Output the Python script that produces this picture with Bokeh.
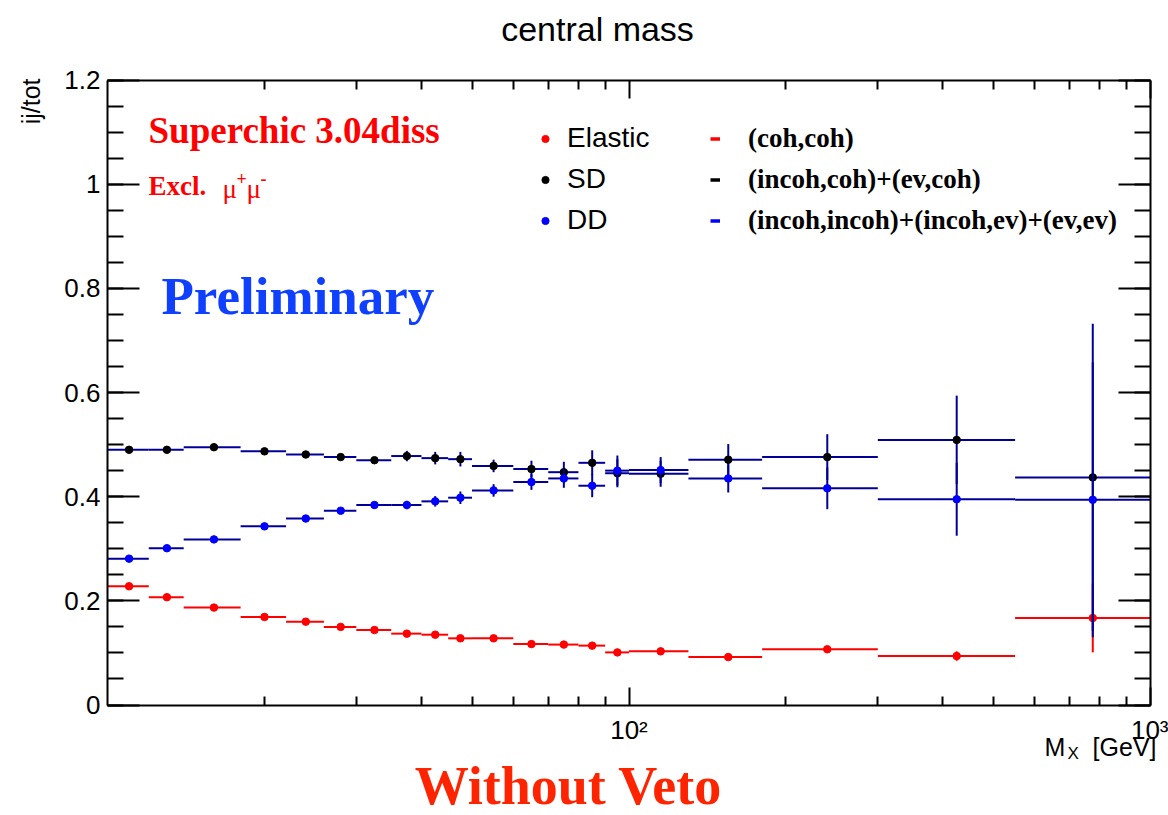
from bokeh.plotting import figure
from bokeh.models import FixedTicker, LinearAxis, LogAxis, Label, Legend, LegendItem, Range1d
from bokeh.embed import file_html
from bokeh.resources import INLINE

# ---- data: ratio ij/tot in bins of central mass M_X [GeV] ----
mx_edges = [10, 12, 14, 18, 22, 26, 30, 35, 40, 45, 50, 60, 70, 80, 90, 100, 130, 180, 300, 550, 1000]

elastic = [0.228, 0.207, 0.187, 0.169, 0.160, 0.150, 0.144, 0.137, 0.135, 0.128,
           0.128, 0.117, 0.116, 0.114, 0.101, 0.103, 0.092, 0.107, 0.094, 0.167]
elastic_err = [0.003, 0.003, 0.003, 0.003, 0.003, 0.003, 0.003, 0.003, 0.003, 0.003,
               0.003, 0.003, 0.003, 0.004, 0.004, 0.004, 0.004, 0.005, 0.009, 0.066]

sd = [0.490, 0.490, 0.495, 0.487, 0.481, 0.476, 0.470, 0.478, 0.474, 0.472,
      0.459, 0.453, 0.447, 0.465, 0.445, 0.444, 0.471, 0.476, 0.509, 0.437]
sd_err = [0.004, 0.004, 0.004, 0.005, 0.005, 0.006, 0.006, 0.010, 0.012, 0.014,
          0.012, 0.016, 0.020, 0.024, 0.027, 0.025, 0.030, 0.044, 0.085, 0.295]

dd = [0.281, 0.301, 0.318, 0.343, 0.358, 0.373, 0.384, 0.384, 0.391, 0.398,
      0.412, 0.428, 0.435, 0.421, 0.450, 0.451, 0.435, 0.416, 0.395, 0.394]
dd_err = [0.003, 0.003, 0.004, 0.004, 0.005, 0.005, 0.006, 0.008, 0.010, 0.012,
          0.012, 0.015, 0.018, 0.022, 0.029, 0.025, 0.027, 0.040, 0.070, 0.264]

x_lim = (10, 1000)
y_lim = (0, 1.2)
y_tick_values = [0, 0.2, 0.4, 0.6, 0.8, 1.0, 1.2]
y_tick_labels = ["0", "0.2", "0.4", "0.6", "0.8", "1", "1.2"]
x_tick_values = [100, 1000]
x_tick_labels = ["10²", "10³"]

legend_proc = ["Elastic", "SD", "DD"]
legend_combo = ["(coh,coh)", "(incoh,coh)+(ev,coh)", "(incoh,incoh)+(incoh,ev)+(ev,ev)"]

# ---- styling ----
SANS = "Liberation Sans"
SERIF = "Liberation Serif"
RED = "#ff0000"
NAVY = "#000099"
BLUE = "#0000ff"

W, H = 1168, 815
FL, FR, FT, FB = 107, 1150, 79.5, 704.5  # box of the axes on the canvas

# The plotting frame fills the whole canvas; the axes sit at fixed data
# locations so that titles and notes around the box are free to be placed.
px_per_decade = (FR - FL) / 2.0
px_per_unit = (FB - FT) / (y_lim[1] - y_lim[0])
x_range = Range1d(10 ** (1 - FL / px_per_decade), 10 ** (3 + (W - FR) / px_per_decade))
y_range = Range1d(y_lim[0] - (H - FB) / px_per_unit, y_lim[1] + FT / px_per_unit)

lo = mx_edges[:-1]
hi = mx_edges[1:]
centers = [(a + b) / 2 for a, b in zip(lo, hi)]

p = figure(width=W, height=H, x_axis_type="log", x_range=x_range, y_range=y_range,
           output_backend="svg", toolbar_location=None, title=None,
           x_axis_location=None, y_axis_location=None,
           min_border=0, min_border_left=0, min_border_right=0,
           min_border_top=0, min_border_bottom=0)
p.xgrid.visible = False
p.ygrid.visible = False
p.outline_line_color = None
p.background_fill_color = "white"
p.border_fill_color = "white"

x_minor = [m * 10 ** k for k in (1, 2) for m in range(2, 10)]
y_minor = [round(0.05 * i, 2) for i in range(25)]


def style_axis(ax, tick_len, show_labels):
    ax.axis_line_width = 2
    ax.major_tick_line_width = 2
    ax.minor_tick_line_width = 2
    ax.major_tick_in = tick_len
    ax.major_tick_out = 0
    ax.minor_tick_in = tick_len // 2
    ax.minor_tick_out = 0
    if show_labels:
        ax.major_label_text_font = SANS
        ax.major_label_text_font_size = "26px"
        ax.major_label_text_color = "black"
    else:
        ax.major_label_text_font_size = "1px"
        ax.major_label_text_color = None
        ax.major_label_standoff = 0


# bottom / top log axes
xb = LogAxis(fixed_location=y_lim[0], bounds=x_lim,
             ticker=FixedTicker(ticks=x_tick_values, minor_ticks=x_minor),
             major_label_overrides=dict(zip(x_tick_values, x_tick_labels)),
             major_label_standoff=10)
style_axis(xb, 18, True)
p.add_layout(xb, "below")

xt = LogAxis(fixed_location=y_lim[1], bounds=x_lim,
             ticker=FixedTicker(ticks=x_tick_values, minor_ticks=x_minor))
style_axis(xt, 18, False)
p.add_layout(xt, "above")

# left / right linear axes
yl = LinearAxis(fixed_location=x_lim[0], bounds=y_lim,
                ticker=FixedTicker(ticks=y_tick_values, minor_ticks=y_minor),
                major_label_overrides=dict(zip(y_tick_values, y_tick_labels)),
                major_label_standoff=7)
style_axis(yl, 32, True)
p.add_layout(yl, "left")

yr = LinearAxis(fixed_location=x_lim[1], bounds=y_lim,
                ticker=FixedTicker(ticks=y_tick_values, minor_ticks=y_minor))
style_axis(yr, 32, False)
p.add_layout(yr, "right")


def draw_series(vals, errs, line_color, marker_color):
    p.segment(x0=lo, x1=hi, y0=vals, y1=vals, line_color=line_color, line_width=2)
    p.segment(x0=centers, x1=centers,
              y0=[v - e for v, e in zip(vals, errs)],
              y1=[v + e for v, e in zip(vals, errs)],
              line_color=line_color, line_width=2)
    return p.scatter(centers, vals, size=7.5, marker="circle",
                     fill_color=marker_color, line_color=marker_color)


r_el = draw_series(elastic, elastic_err, RED, RED)
r_sd = draw_series(sd, sd_err, NAVY, "black")
r_dd = draw_series(dd, dd_err, NAVY, BLUE)

# legend swatches for the configuration column (a single undefined point, nothing drawn)
nan = float("nan")
swatches = [p.line(x=[nan], y=[nan], line_color=c, line_width=3.5) for c in (RED, "black", BLUE)]

ROW = 41
leg_top = 138 - ROW / 2
leg_bottom = leg_top + 3 * ROW

leg1 = Legend(items=[LegendItem(label=t, renderers=[r])
                     for t, r in zip(legend_proc, [r_el, r_sd, r_dd])],
              location=(536, H - leg_bottom), orientation="vertical",
              glyph_width=18, glyph_height=ROW, label_height=ROW, spacing=0,
              padding=0, margin=0, label_standoff=13,
              background_fill_alpha=0, border_line_alpha=0,
              label_text_font=SANS, label_text_font_size="28px",
              label_text_color="black", label_text_baseline="middle")
leg2 = Legend(items=[LegendItem(label=t, renderers=[r])
                     for t, r in zip(legend_combo, swatches)],
              location=(710, H - leg_bottom), orientation="vertical",
              glyph_width=10, glyph_height=ROW, label_height=ROW, spacing=0,
              padding=0, margin=0, label_standoff=28,
              background_fill_alpha=0, border_line_alpha=0,
              label_text_font=SERIF, label_text_font_style="bold",
              label_text_font_size="27px", label_text_color="black",
              label_text_baseline="middle")
p.add_layout(leg1)
p.add_layout(leg2)


def put(text, px, py, size, font=SANS, color="black", style="normal",
        align="left", angle=0):
    p.add_layout(Label(text=text, x=px, y=H - py, x_units="screen", y_units="screen",
                       text_font=font, text_font_size=f"{size}px", text_color=color,
                       text_font_style=style, text_align=align, text_baseline="middle",
                       angle=angle))


put("central mass", 597, 28, 34, align="center")
put("ij/tot", 30, 78, 25, align="right", angle=1.5708)

put("M", 1044, 746, 25)
put("X", 1067, 753, 17)
put("[GeV]", 1156, 746, 25, align="right")

put("Superchic 3.04diss", 148, 130, 37, font=SERIF, color=RED, style="bold")
put("Excl.", 148, 185, 27, font=SERIF, color=RED, style="bold")
put("μ", 222, 188, 27, font=SERIF, color=RED)
put("+", 236, 178, 18, font=SERIF, color=RED, style="bold")
put("μ", 246, 188, 27, font=SERIF, color=RED)
put("-", 260, 178, 18, font=SERIF, color=RED, style="bold")

put("Preliminary", 161, 295, 53, font=SERIF, color="#1040ff", style="bold")
put("Without Veto", 568, 785, 54, font=SERIF, color="#ff2400", style="bold", align="center")

open("out.html", "w").write(file_html(p, INLINE))
